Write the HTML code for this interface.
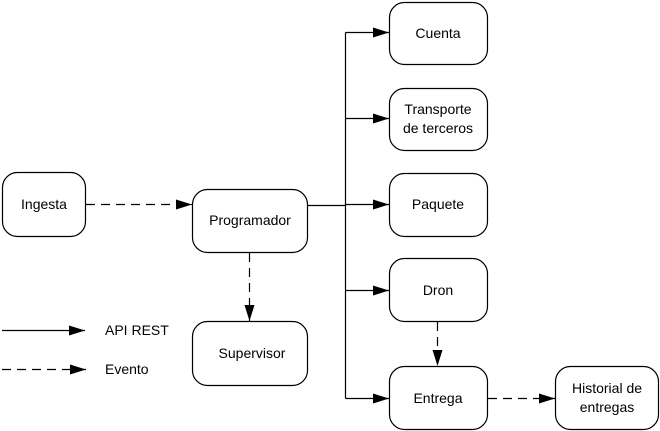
<!DOCTYPE html>
<html><head><meta charset="utf-8"><style>
html,body{margin:0;padding:0;background:#fff;}
svg{display:block;}
text{font-family:"Liberation Sans","DejaVu Sans",sans-serif;font-size:14px;fill:#000;}
</style></head><body>
<svg width="660" height="431" viewBox="0 0 660 431" xmlns="http://www.w3.org/2000/svg">
<defs>
<marker id="b" markerWidth="16" markerHeight="10" refX="16" refY="5" orient="auto" markerUnits="userSpaceOnUse">
<path d="M0,0 L16,5 L0,10 Z" fill="#000"/></marker>
</defs>
<g fill="#fff" stroke="#000" stroke-width="1.2">
<rect x="2.5" y="172.5" width="83" height="64" rx="15"/>
<rect x="192.5" y="189.5" width="115" height="63" rx="15"/>
<rect x="192.5" y="321.5" width="115" height="64" rx="15"/>
<rect x="389.5" y="2.5" width="98" height="62" rx="15"/>
<rect x="389.5" y="88.5" width="98" height="62" rx="15"/>
<rect x="389.5" y="173.5" width="98" height="63" rx="15"/>
<rect x="389.5" y="258.5" width="98" height="63" rx="15"/>
<rect x="389.5" y="366.5" width="98" height="63" rx="15"/>
<rect x="555.5" y="366.5" width="103" height="63" rx="15"/>
</g>
<g stroke="#000" stroke-width="1.2" fill="none">
<path d="M307.5 205.5 H345.5"/>
<path d="M345.5 32.5 V398.5"/>
<path d="M345.5 32.5 H389" marker-end="url(#b)"/>
<path d="M345.5 118.5 H389" marker-end="url(#b)"/>
<path d="M345.5 204.5 H389" marker-end="url(#b)"/>
<path d="M345.5 290.5 H389" marker-end="url(#b)"/>
<path d="M345.5 398.5 H389" marker-end="url(#b)"/>
<path d="M2 330.5 H85" marker-end="url(#b)"/>
<g stroke-dasharray="9,6">
<path d="M86 204.5 H192" marker-end="url(#b)"/>
<path d="M249.5 253 V321" marker-end="url(#b)"/>
<path d="M437.5 322 V366" marker-end="url(#b)"/>
<path d="M488 398.5 H555" marker-end="url(#b)"/>
<path d="M2 369.5 H86" marker-end="url(#b)"/>
</g>
</g>
<g text-anchor="middle">
<text x="44" y="209">Ingesta</text>
<text x="250" y="225">Programador</text>
<text x="252" y="358">Supervisor</text>
<text x="438" y="38">Cuenta</text>
<text x="438" y="114">Transporte</text>
<text x="438" y="133">de terceros</text>
<text x="438" y="209">Paquete</text>
<text x="438" y="295">Dron</text>
<text x="438" y="403">Entrega</text>
<text x="607" y="393">Historial de</text>
<text x="607" y="412">entregas</text>
</g>
<text x="105" y="335">API REST</text>
<text x="105" y="374">Evento</text>
</svg>
</body></html>
